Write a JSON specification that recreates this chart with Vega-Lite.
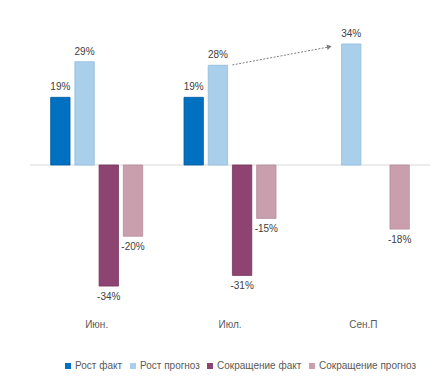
{
  "$schema": "https://vega.github.io/schema/vega-lite/v6.json",
  "autosize": {"type": "none"},
  "width": 400,
  "height": 292,
  "padding": {"left": 30, "top": 19, "right": 4, "bottom": 78},
  "background": "white",
  "config": {
    "view": {"stroke": null},
    "font": "Liberation Sans",
    "text": {"font": "Liberation Sans"}
  },
  "datasets": {
    "bars": [
      {"cat": "Июн.", "series": "Рост факт", "value": 19},
      {"cat": "Июн.", "series": "Рост прогноз", "value": 29},
      {"cat": "Июн.", "series": "Сокращение факт", "value": -34},
      {"cat": "Июн.", "series": "Сокращение прогноз", "value": -20},
      {"cat": "Июл.", "series": "Рост факт", "value": 19},
      {"cat": "Июл.", "series": "Рост прогноз", "value": 28},
      {"cat": "Июл.", "series": "Сокращение факт", "value": -31},
      {"cat": "Июл.", "series": "Сокращение прогноз", "value": -15},
      {"cat": "Сен.П", "series": "Рост прогноз", "value": 34},
      {"cat": "Сен.П", "series": "Сокращение прогноз", "value": -18}
    ],
    "arrow": [
      {"x1": 1.517, "y1": 28.1, "x2": 2.235, "y2": 33.1, "hx": 2.245, "hy": 33.2}
    ]
  },
  "layer": [
    {
      "data": {"values": [{"z": 0}]},
      "mark": {"type": "rule", "color": "#d9d9d9", "strokeWidth": 1},
      "encoding": {"y": {"field": "z", "type": "quantitative", "scale": {"domain": [-41, 41], "nice": false, "zero": false}, "axis": null}}
    },
    {
      "data": {"name": "bars"},
      "transform": [{"calculate": "datum.value + '%'", "as": "lbl"}],
      "layer": [
        {
          "mark": {"type": "bar", "strokeWidth": 0.8},
          "encoding": {
            "x": {"field": "cat", "type": "nominal", "sort": ["Июн.", "Июл.", "Сен.П"],
                  "scale": {"paddingInner": 0.31, "paddingOuter": 0.155},
                  "axis": {"title": null, "domain": false, "ticks": false, "labelAngle": 0, "labelColor": "#595959", "labelFontSize": 10, "labelPadding": 8, "labelFont": "Liberation Sans"}},
            "xOffset": {"field": "series", "type": "nominal",
                        "scale": {"domain": ["Рост факт", "Рост прогноз", "Сокращение факт", "Сокращение прогноз"], "paddingInner": 0.2, "paddingOuter": 0}},
            "y": {"field": "value", "type": "quantitative", "axis": null},
            "color": {"field": "series", "type": "nominal",
                      "scale": {"domain": ["Рост факт", "Рост прогноз", "Сокращение факт", "Сокращение прогноз"],
                                "range": ["#0070c0", "#a9cfea", "#8e4470", "#c99fae"]},
                      "legend": {"title": null, "orient": "none", "legendX": 33, "legendY": 342, "direction": "horizontal",
                                 "symbolType": "square", "symbolSize": 36, "labelFontSize": 10, "labelColor": "#595959",
                                 "labelFont": "Liberation Sans", "symbolOffset": 0, "labelOffset": 2, "columnPadding": 5, "symbolStrokeWidth": 0}},
            "stroke": {"field": "series", "type": "nominal",
                       "scale": {"domain": ["Рост факт", "Рост прогноз", "Сокращение факт", "Сокращение прогноз"],
                                 "range": ["#005a9e", "#8fbde0", "#73335a", "#b88c9c"]},
                       "legend": null}
          }
        },
        {
          "transform": [{"filter": "datum.value > 0"}],
          "mark": {"type": "text", "baseline": "bottom", "dy": -5, "fontSize": 10, "color": "#404040"},
          "encoding": {
            "x": {"field": "cat", "type": "nominal", "sort": ["Июн.", "Июл.", "Сен.П"]},
            "xOffset": {"field": "series", "type": "nominal"},
            "y": {"field": "value", "type": "quantitative"},
            "text": {"field": "lbl", "type": "nominal"}
          }
        },
        {
          "transform": [{"filter": "datum.value < 0"}],
          "mark": {"type": "text", "baseline": "top", "dy": 6, "fontSize": 10, "color": "#404040"},
          "encoding": {
            "x": {"field": "cat", "type": "nominal", "sort": ["Июн.", "Июл.", "Сен.П"]},
            "xOffset": {"field": "series", "type": "nominal"},
            "y": {"field": "value", "type": "quantitative"},
            "text": {"field": "lbl", "type": "nominal"}
          }
        }
      ]
    },
    {
      "data": {"name": "arrow"},
      "layer": [
        {
          "mark": {"type": "rule", "color": "#7f7f7f", "strokeWidth": 1, "strokeDash": [2, 1.5]},
          "encoding": {
            "x": {"field": "x1", "type": "quantitative", "scale": {"domain": [0, 3], "nice": false}, "axis": null},
            "x2": {"field": "x2"},
            "y": {"field": "y1", "type": "quantitative"},
            "y2": {"field": "y2"}
          }
        },
        {
          "mark": {"type": "point", "shape": "triangle-up", "filled": true, "color": "#7f7f7f", "size": 30, "angle": 79, "opacity": 1},
          "encoding": {
            "x": {"field": "hx", "type": "quantitative", "scale": {"domain": [0, 3], "nice": false}, "axis": null},
            "y": {"field": "hy", "type": "quantitative"}
          }
        }
      ]
    }
  ],
  "resolve": {"scale": {"x": "independent"}}
}
